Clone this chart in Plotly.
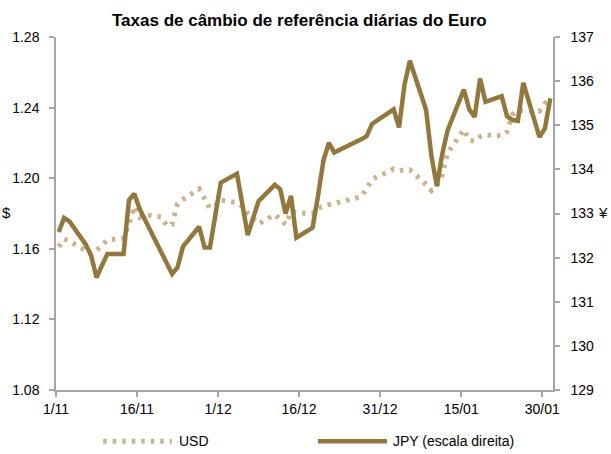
import plotly.graph_objects as go

# ECB daily reference rates (business days), Nov 2017 - Jan 2018
dates = (
    ["2017-11-%02d" % d for d in [1, 2, 3, 6, 7, 8, 9, 10, 13, 14, 15, 16, 17, 20, 21, 22, 23, 24, 27, 28, 29, 30]]
    + ["2017-12-%02d" % d for d in [1, 4, 5, 6, 7, 8, 11, 12, 13, 14, 15, 18, 19, 20, 21, 22, 27, 28, 29]]
    + ["2018-01-%02d" % d for d in [2, 3, 4, 5, 8, 9, 10, 11, 12, 15, 16, 17, 18, 19, 22, 23, 24, 25, 26, 29, 30, 31]]
)

usd = [
    1.1612, 1.1655, 1.1645, 1.1592, 1.1570, 1.1590, 1.1625, 1.1650, 1.1660, 1.1740, 1.1840,
    1.1778, 1.1793, 1.1780, 1.1730, 1.1738, 1.1855, 1.1880, 1.1940, 1.1880, 1.1829, 1.1845,
    1.1875, 1.1862, 1.1840, 1.1800, 1.1768, 1.1741, 1.1795, 1.1770, 1.1738, 1.1810, 1.1805,
    1.1798, 1.1830, 1.1842, 1.1850, 1.1854, 1.1895, 1.1940, 1.1993,
    1.2052, 1.2042, 1.2048, 1.2048, 1.1965, 1.1930, 1.1960, 1.2018, 1.2144, 1.2275, 1.2215,
    1.2210, 1.2235, 1.2245, 1.2240, 1.2263, 1.2360, 1.2385, 1.2380, 1.2380, 1.2425, 1.2440,
]

jpy = [
    132.58, 132.90, 132.82, 132.30, 132.05, 131.55, 131.82, 132.08, 132.08, 133.30, 133.45,
    133.10, 132.85, 132.12, 131.87, 131.63, 131.78, 132.25, 132.70, 132.23, 132.23, 132.95,
    133.70, 133.90, 133.20, 132.51, 132.90, 133.28, 133.65, 133.55, 133.00, 133.40, 132.45,
    132.68, 133.40, 134.20, 134.60, 134.38, 134.68, 134.75, 135.03,
    135.36, 134.95, 135.91, 136.46, 135.35, 134.30, 133.62, 134.35, 134.89, 135.81, 135.36,
    135.19, 136.06, 135.53, 135.66, 135.20, 135.12, 135.10, 135.96, 134.73, 134.93, 135.61,
]

tick_dates = ["2017-11-01", "2017-11-16", "2017-12-01", "2017-12-16", "2017-12-31", "2018-01-15", "2018-01-30"]
tick_text = ["1/11", "16/11", "1/12", "16/12", "31/12", "15/01", "30/01"]

usd_color = "#C9B491"
jpy_color = "#93783E"
axis_color = "#A6A6A6"
font_family = "Liberation Sans, Arial, sans-serif"
DAY_MS = 86400000
usd_dash = "3.5px,6px"

fig = go.Figure()
fig.add_trace(go.Scatter(
    x=dates, y=usd, name="USD", mode="lines",
    xperiod=DAY_MS, xperiodalignment="middle",
    line=dict(color=usd_color, width=5, dash=usd_dash),
    yaxis="y",
))
fig.add_trace(go.Scatter(
    x=dates, y=jpy, name="JPY (escala direita)", mode="lines",
    xperiod=DAY_MS, xperiodalignment="middle",
    line=dict(color=jpy_color, width=4.5),
    yaxis="y2",
))

axis_common = dict(
    showline=True, linecolor=axis_color, linewidth=1.5,
    ticks="outside", ticklen=5, tickcolor=axis_color, tickwidth=1.5,
    showgrid=False, zeroline=False,
    tickfont=dict(family=font_family, size=14, color="#000000"),
)

fig.update_layout(
    width=611, height=454,
    margin=dict(l=56, r=58, t=37, b=64),
    paper_bgcolor="white", plot_bgcolor="white",
    showlegend=False,
    title=dict(
        text="<b>Taxas de câmbio de referência diárias do Euro</b>",
        x=0.49, xanchor="center", y=0.956, yanchor="middle",
        font=dict(family=font_family, size=17, color="#000000"),
    ),
    xaxis=dict(
        type="date", range=["2017-11-01", "2018-02-01"],
        tickmode="array", tickvals=tick_dates, ticktext=tick_text,
        **axis_common,
    ),
    yaxis=dict(range=[1.08, 1.28], dtick=0.04, tick0=1.08, tickformat=".2f",
               ticklabelstandoff=7, **axis_common),
    yaxis2=dict(range=[129, 137], dtick=1, tick0=129, overlaying="y", side="right",
                ticklabelstandoff=8, **axis_common),
)

# Axis unit labels
fig.add_annotation(text="$", xref="paper", yref="paper", x=-0.112, y=0.504, yanchor="middle",
                   showarrow=False, font=dict(family=font_family, size=15, color="#000000"))
fig.add_annotation(text="¥", xref="paper", yref="paper", x=1.114, y=0.504,
                   xanchor="right", yanchor="middle",
                   showarrow=False, font=dict(family=font_family, size=15, color="#000000"))

# Legend keys below the plot
legend_y = -0.145
fig.add_shape(type="line", xref="paper", yref="paper", x0=0.095, x1=0.233, y0=legend_y, y1=legend_y,
              line=dict(color=usd_color, width=5, dash=usd_dash))
fig.add_annotation(text="USD", xref="paper", yref="paper", x=0.243, y=legend_y,
                   xanchor="left", yanchor="middle", showarrow=False,
                   font=dict(family=font_family, size=14, color="#000000"))
fig.add_shape(type="line", xref="paper", yref="paper", x0=0.527, x1=0.666, y0=legend_y, y1=legend_y,
              line=dict(color=jpy_color, width=4.5))
fig.add_annotation(text="JPY (escala direita)", xref="paper", yref="paper", x=0.674, y=legend_y,
                   xanchor="left", yanchor="middle", showarrow=False,
                   font=dict(family=font_family, size=14, color="#000000"))

fig.write_html("out.html")
